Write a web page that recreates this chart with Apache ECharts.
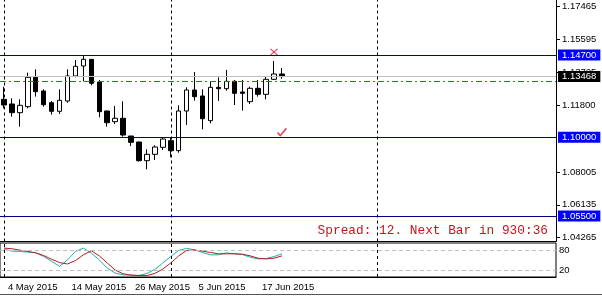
<!DOCTYPE html>
<html><head><meta charset="utf-8">
<script src="https://cdn.jsdelivr.net/npm/echarts@6/dist/echarts.min.js"></script>
<style>html,body{margin:0;padding:0;background:#fff}#c{width:602px;height:299px}</style>
</head><body><div id="c"></div>
<script>
const dates = ['1 May 2015','4 May 2015','5 May 2015','6 May 2015','7 May 2015','8 May 2015','11 May 2015','12 May 2015','13 May 2015','14 May 2015','15 May 2015','18 May 2015','19 May 2015','20 May 2015','21 May 2015','22 May 2015','25 May 2015','26 May 2015','27 May 2015','28 May 2015','29 May 2015','1 Jun 2015','2 Jun 2015','3 Jun 2015','4 Jun 2015','5 Jun 2015','8 Jun 2015','9 Jun 2015','10 Jun 2015','11 Jun 2015','12 Jun 2015','15 Jun 2015','16 Jun 2015','17 Jun 2015','18 Jun 2015','19 Jun 2015'];
const futureSlots = 34;
const opens  = [1.12166,1.11900,1.11404,1.11747,1.13424,1.12643,1.11976,1.11481,1.12071,1.13500,1.14071,1.14452,1.13157,1.11500,1.10890,1.11081,1.10071,1.09728,1.08661,1.09023,1.09423,1.09804,1.09232,1.11500,1.12700,1.12357,1.10947,1.12852,1.12776,1.13195,1.12585,1.12033,1.12795,1.12452,1.13310,1.13614];
const closes = [1.11842,1.11404,1.11824,1.13424,1.12604,1.11861,1.11481,1.12109,1.13500,1.14052,1.14452,1.13081,1.11461,1.10833,1.11081,1.10128,1.09709,1.08661,1.09023,1.09442,1.09899,1.09232,1.11500,1.12700,1.12319,1.11061,1.12852,1.12776,1.13195,1.12509,1.12509,1.12795,1.12452,1.13310,1.13614,1.13468];
const lows   = [1.11652,1.11176,1.10604,1.11652,1.12319,1.11747,1.11290,1.11328,1.11976,1.13424,1.13195,1.12967,1.11138,1.10604,1.10757,1.10033,1.09499,1.08604,1.08166,1.08699,1.09271,1.08852,1.09118,1.10699,1.12090,1.10452,1.10795,1.12071,1.12661,1.11842,1.11519,1.11900,1.12319,1.12166,1.13271,1.13346];
const highs  = [1.12890,1.12224,1.12166,1.13690,1.13881,1.12738,1.12071,1.12738,1.13881,1.14414,1.14700,1.14470,1.13271,1.11519,1.11785,1.12052,1.10071,1.09747,1.09309,1.09538,1.09995,1.09995,1.11824,1.12850,1.13728,1.12738,1.13214,1.13424,1.13843,1.13271,1.13271,1.12890,1.13271,1.13462,1.14357,1.13957];
const stochK = [84,78,77,75,73,62,48,33,52,77,87,72,52,28,13,8,7,6,12,24,43,62,80,86,82,74,67,67,73,70,68,60,55,56,62,70];
const stochD = [87,85,81,77,73,65,54,44,40,50,67,79,64,43,22,11,7,6,6,12,25,43,64,80,81,78,74,70,70,70,69,64,57,55,57,64];
const priceTicks = [1.04265,1.06135,1.08005,1.11800,1.13725,1.15595,1.17465];
const priceMin = 1.04041, priceMax = 1.17843;
const levels = [1.14700,1.10000,1.05500];
const greenLevel = 1.13200;
const separatorIdx = [0,21,47];
const dateLabelIdx = [1,9,17,25,33];
const stochLevels = [20,80];
const crossMark = [dates[34], 1.14870];
const checkMark = [dates[35], 1.10280];
const spreadText = 'Spread: 12. Next Bar in 930:36';

const cats = dates.concat(Array.from({length: futureSlots}, () => ''));
const candles = opens.map((o,i) => [o, closes[i], lows[i], highs[i]]);
const lastClose = closes[closes.length-1];
const FONT = "'Liberation Sans', Arial, sans-serif";

const sepLines = separatorIdx.map(i => ({xAxis: i}));
const boxLabel = (bg) => ({show:true, position:'end', distance:2, formatter:(p)=>Number(p.value).toFixed(5),
  backgroundColor:bg, color:'#fff', padding:[1,4,0,4], fontSize:9.5, lineHeight:10, fontFamily:FONT});

const chart = echarts.init(document.getElementById('c'), null, {renderer:'canvas'});
chart.setOption({
  animation:false,
  textStyle:{fontFamily:FONT},
  grid:[
    {left:-2.5, right:46, top:0, height:241.5},
    {left:-2.5, right:46, top:243, height:34, show:true, borderColor:'#000', borderWidth:1}
  ],
  xAxis:[
    {gridIndex:0, type:'category', data:cats, boundaryGap:true,
     axisLine:{show:true, lineStyle:{color:'#000', width:1}}, axisTick:{show:false}, axisLabel:{show:false}, splitLine:{show:false}},
    {gridIndex:1, type:'category', data:cats, boundaryGap:true,
     axisLine:{show:true, lineStyle:{color:'#000'}}, axisTick:{show:false}, splitLine:{show:false},
     axisLabel:{show:true, interval:(i)=>dateLabelIdx.includes(i), align:'left', margin:5, padding:[0,0,0,-4], fontSize:9.5, color:'#000'}}
  ],
  yAxis:[
    {gridIndex:0, type:'value', position:'right', min:priceMin, max:priceMax,
     axisLine:{show:true, lineStyle:{color:'#000'}},
     axisTick:{show:true, length:4, customValues:priceTicks, lineStyle:{color:'#000'}},
     axisLabel:{show:true, customValues:priceTicks, formatter:(v)=>v.toFixed(5), margin:6, fontSize:9.5, color:'#000'},
     splitLine:{show:false}},
    {gridIndex:1, type:'value', position:'right', min:1.5, max:102,
     axisLine:{show:false}, axisTick:{show:false},
     axisLabel:{show:true, customValues:stochLevels, margin:3, fontSize:9.5, color:'#000'},
     splitLine:{show:false}}
  ],
  series:[
    {type:'candlestick', xAxisIndex:0, yAxisIndex:0, data:candles, barWidth:5,
     itemStyle:{color:'#ffffff', color0:'#000000', borderColor:'#000', borderColor0:'#000', borderWidth:1},
     markLine:{silent:true, symbol:'none', animation:false, precision:5,
       data:[
         ...levels.map(v => ({yAxis:v, lineStyle:{color:'#000080', width:1, type:'solid'}, label:boxLabel('#0000ff')})),
         {yAxis:lastClose, lineStyle:{color:'#c0c0c0', width:1, type:'solid'}, label:boxLabel('#000000')},
         {yAxis:greenLevel, lineStyle:{color:'#2a7d2a', width:1, type:[6,3,2,3]}, label:{show:false}},
         ...sepLines.map(d => Object.assign({}, d, {lineStyle:{color:'#000', width:1, type:[3,3]}, label:{show:false}}))
       ]}
    },
    {type:'scatter', xAxisIndex:0, yAxisIndex:0, data:[crossMark], symbolSize:[8,7],
     symbol:'path://M1,0 L5,4 L9,0 L10,1 L6,5 L10,9 L9,10 L5,6 L1,10 L0,9 L4,5 L0,1 Z',
     itemStyle:{color:'#e8102a'}, silent:true},
    {type:'scatter', xAxisIndex:0, yAxisIndex:0, data:[checkMark], symbolSize:[10,9],
     symbol:'path://M0,6 L1.5,4.5 L4,7.5 L10.5,0 L12,1.2 L4,10 Z',
     itemStyle:{color:'#e8102a'}, silent:true},
    {type:'line', xAxisIndex:1, yAxisIndex:1, data:stochK, showSymbol:false, symbol:'none',
     lineStyle:{color:'#20b2aa', width:1}, z:3,
     markLine:{silent:true, symbol:'none', label:{show:false}, precision:5,
       data:[
         ...stochLevels.map(v => ({yAxis:v, lineStyle:{color:'#c0c0c0', width:1, type:[4,3]}})),
         ...sepLines.map(d => Object.assign({}, d, {lineStyle:{color:'#000', width:1, type:[3,3]}}))
       ]}},
    {type:'line', xAxisIndex:1, yAxisIndex:1, data:stochD, showSymbol:false, symbol:'none',
     lineStyle:{color:'#b81c1c', width:1}, z:4}
  ],
  graphic:[
    {type:'text', right:54, top:224, silent:true,
     style:{text:spreadText, fill:'#c4161c', font:"12.8px 'Liberation Mono', 'Courier New', monospace"}},
    {type:'line', silent:true, shape:{x1:0, y1:294.5, x2:602, y2:294.5}, style:{stroke:'#555', lineWidth:1}}
  ]
});
</script></body></html>
